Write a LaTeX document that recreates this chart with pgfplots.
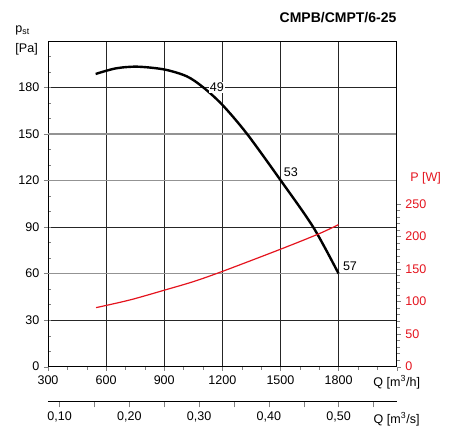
\documentclass[border=0pt]{standalone}
\usepackage{pgfplots}
\pgfplotsset{compat=1.18}
\usepackage{fontspec}
\setmainfont{Liberation Sans}
\definecolor{pred}{RGB}{228,20,30}

\begin{document}
\begin{tikzpicture}
\useasboundingbox (-36pt,-48.2pt) rectangle (304.5pt,275pt);
\pgfplotsset{
  every axis/.append style={
    scale only axis, width=261.5pt, height=244.3pt,
    font=\fontsize{9.4}{11}\selectfont,
    /pgf/number format/assume math mode=true,
    tick align=outside, major tick length=3pt, minor tick length=2.5pt,
    xmin=300, xmax=2100, clip=false,
    axis line style={line width=0.6pt},
  }
}

% pressure (left axis)
\begin{axis}[
  name=main,
  ymin=0, ymax=210,
  xtick={300,600,...,2100},
  xticklabels={300,600,900,1200,1500,1800,{Q [m\textsuperscript{3}/h]}},
  minor xtick={300,400,...,2100},
  ytick={0,30,...,180},
  minor ytick={10,20,...,200},
  xtick pos=bottom, ytick pos=left,
  xmajorgrids, ymajorgrids,
  major grid style={black!85, line width=0.6pt},
  minor y tick style={xshift=2.5pt},
  extra y ticks={60,120,150},
  extra y tick labels={},
  extra y tick style={major grid style={gray!85, line width=0.8pt}},
]
\addplot[black, line width=1.8pt, smooth] coordinates {
  (546,188.7) (650,192.3) (760,193.4) (900,191.6) (1016,187.2) (1100,180.2)
  (1200,168.8) (1326,150.3) (1495,121.2) (1669,90.0) (1800,60.0)
};
\node[fill=white, inner sep=0.8pt] at (axis cs:1172,180) {49};
\node[inner sep=1pt] at (axis cs:1554,125.5) {53};
\node[inner sep=1pt] at (axis cs:1859,65) {57};
\node[anchor=base east, inner sep=0, yshift=13.9pt,
  font=\bfseries\fontsize{10.5}{12}\selectfont] at (rel axis cs:1,1) {CMPB/CMPT/6-25};
\node[anchor=east, align=left, inner sep=0, xshift=-7.5pt,
  font=\fontsize{9.4}{15}\selectfont] at (rel axis cs:0,1) {p\textsubscript{st}\\ {[Pa]}};
\end{axis}

% power (right axis)
\begin{axis}[
  ymin=0, ymax=500,
  axis y line*=right, axis x line=none,
  ytick={0,50,...,250},
  minor ytick={10,20,...,250},
  yticklabel style={text=pred},
]
\addplot[pred, line width=0.9pt, smooth] coordinates {
  (548,90.6) (723,102.4) (904,117.7) (1050,130.5) (1202,146.4)
  (1498,180.0) (1695,203.5) (1800,218.0)
};
\node[text=pred, anchor=west, inner sep=0, xshift=10pt] at (axis cs:2100,289) {P [W]};
\end{axis}

% flow in m3/s
\begin{axis}[
  at={(0pt,-26.25pt)}, anchor=south west,
  height=10pt,
  xmin=0.0833333, xmax=0.5833333, ymin=0, ymax=1,
  axis x line*=bottom, axis y line=none,
  xtick={0.1,0.2,0.3,0.4,0.5},
  xticklabels={{0,10},{0,20},{0,30},{0,40},{0,50}},
  minor xtick={0.15,0.25,0.35,0.45,0.55},
  major tick length=4.3pt, minor tick length=4.3pt,
  extra x ticks={0.5833333},
  extra x tick labels={{Q [m\textsuperscript{3}/s]}},
  extra x tick style={major tick style={draw=none}},
]
\end{axis}
\end{tikzpicture}
\end{document}
